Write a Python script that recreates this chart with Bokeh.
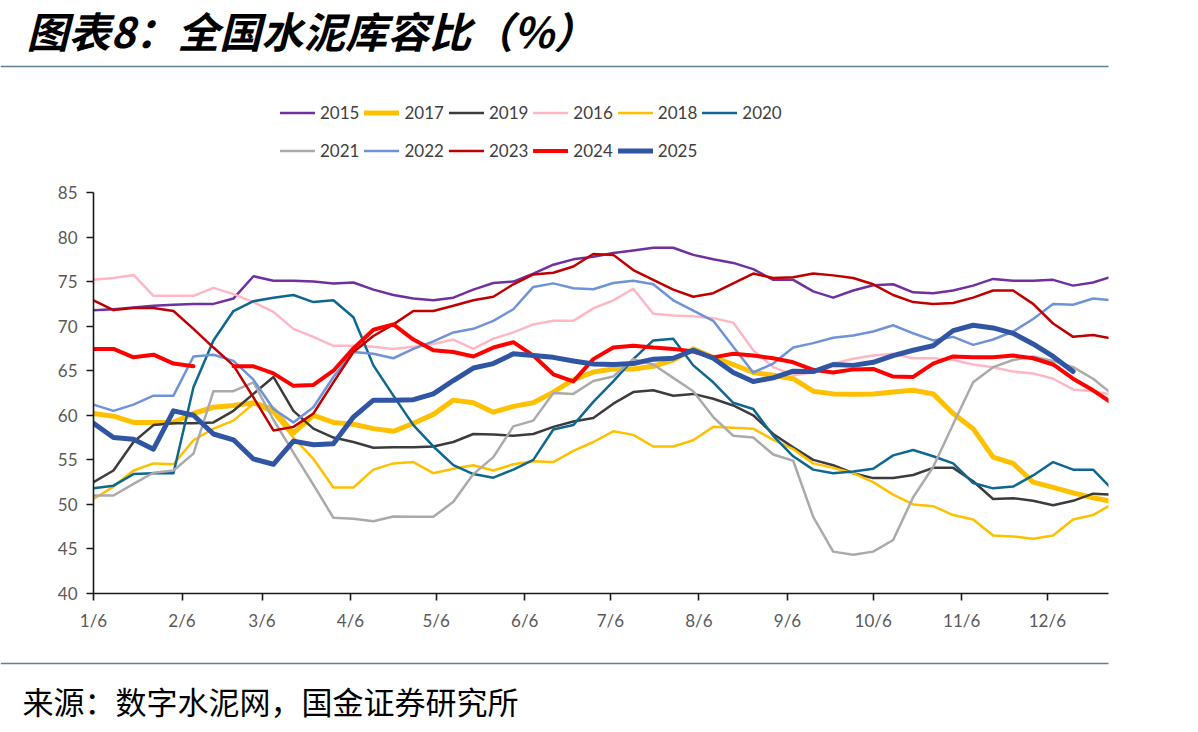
from bokeh.plotting import figure
from bokeh.layouts import column
from bokeh.models import FixedTicker, Label, Legend, LegendItem, Range1d
from bokeh.embed import file_html
from bokeh.resources import INLINE

NaN = float("nan")

# x positions: days since 1/6, weekly observations
days = [i * 7 for i in range(52)]
tick_days = [0, 31, 59, 90, 120, 151, 181, 212, 243, 273, 304, 334]
tick_labels = ["1/6", "2/6", "3/6", "4/6", "5/6", "6/6", "7/6", "8/6", "9/6", "10/6", "11/6", "12/6"]
y_ticks = [40, 45, 50, 55, 60, 65, 70, 75, 80, 85]

y2015 = [71.8, 71.9, 72.1, 72.3, 72.4, 72.5, 72.5, 73.1, 75.6, 75.1, 75.1, 75.0, 74.8,
         74.9, 74.1, 73.5, 73.1, 72.9, 73.2, 74.1, 74.85, 75.0, 75.9, 76.9, 77.5, 77.8,
         78.2, 78.5, 78.8, 78.8, 78.0, 77.5, 77.1, 76.4, 75.2, 75.2, 73.9, 73.2, 74.0,
         74.6, 74.7, 73.8, 73.7, 74.0, 74.55, 75.3, 75.1, 75.1, 75.2, 74.55, 74.9, 75.6]
y2016 = [75.2, 75.4, 75.75, 73.4, 73.4, 73.4, 74.3, 73.6, 72.7, 71.6, 69.7, 68.8, 67.8,
         67.8, 67.7, 67.45, 67.7, 68.0, 68.5, 67.45, 68.6, 69.3, 70.2, 70.6, 70.6, 72.0,
         72.9, 74.2, 71.4, 71.2, 71.1, 70.9, 70.4, 67.3, 65.4, 64.5, 64.8, 65.8, 66.35,
         66.7, 66.9, 66.4, 66.4, 66.2, 65.7, 65.4, 64.9, 64.7, 64.1, 62.9, 62.7, 62.3]
y2017 = [60.2, 59.9, 59.2, 59.2, 59.2, 60.2, 60.9, 61.1, 61.4, 60.7, 58.0, 60.0, 59.2,
         59.0, 58.5, 58.2, 59.1, 60.1, 61.7, 61.4, 60.35, 61.0, 61.4, 62.6, 64.0, 64.85,
         65.2, 65.2, 65.5, 66.2, 67.45, 66.5, 65.7, 64.8, 64.5, 64.1, 62.7, 62.4, 62.35,
         62.4, 62.6, 62.8, 62.4, 60.2, 58.5, 55.3, 54.6, 52.5, 51.9, 51.3, 50.75, 50.3]
y2018 = [50.6, 52.0, 53.8, 54.6, 54.5, 57.2, 58.5, 59.4, 61.3, 60.2, 57.5, 55.1, 51.9,
         51.9, 53.9, 54.6, 54.75, 53.5, 54.0, 54.4, 53.8, 54.5, 54.85, 54.75, 56.0, 57.0,
         58.2, 57.8, 56.5, 56.5, 57.2, 58.7, 58.6, 58.5, 57.25, 56.2, 54.6, 54.1, 53.5,
         52.5, 51.1, 50.0, 49.8, 48.8, 48.3, 46.5, 46.4, 46.15, 46.5, 48.3, 48.8, 50.1]
y2019 = [52.5, 53.8, 57.0, 58.9, 59.1, 59.1, 59.2, 60.5, 62.4, 64.3, 60.5, 58.5, 57.5,
         57.0, 56.35, 56.4, 56.4, 56.5, 57.0, 57.9, 57.85, 57.7, 57.9, 58.7, 59.3, 59.7,
         61.3, 62.6, 62.8, 62.2, 62.4, 61.85, 61.1, 60.0, 57.9, 56.4, 55.0, 54.4, 53.5,
         52.95, 52.95, 53.3, 54.1, 54.1, 52.6, 50.6, 50.7, 50.4, 49.9, 50.4, 51.2, 51.1]
y2020 = [51.8, 52.1, 53.4, 53.5, 53.5, 63.15, 68.4, 71.7, 72.8, 73.2, 73.5, 72.7, 72.9,
         71.0, 65.6, 62.2, 58.9, 56.5, 54.4, 53.4, 53.0, 53.9, 55.0, 58.4, 58.9, 61.5,
         63.8, 66.3, 68.4, 68.6, 65.6, 63.7, 61.4, 60.7, 57.7, 55.4, 53.9, 53.5, 53.7,
         54.0, 55.5, 56.1, 55.4, 54.6, 52.4, 51.8, 52.0, 53.25, 54.75, 53.9, 53.9, 51.6]
y2021 = [51.0, 51.0, 52.3, 53.55, 53.8, 55.7, 62.7, 62.7, 63.7, 59.5, 55.8, 52.2, 48.5,
         48.4, 48.1, 48.65, 48.6, 48.6, 50.3, 53.4, 55.3, 58.75, 59.4, 62.5, 62.4, 63.85,
         64.35, 66.3, 65.7, 64.2, 62.7, 59.8, 57.7, 57.5, 55.6, 54.9, 48.6, 44.7, 44.35,
         44.7, 46.0, 50.8, 54.2, 59.0, 63.7, 65.4, 66.2, 66.6, 66.1, 65.4, 64.1, 62.3]
y2022 = [61.2, 60.5, 61.2, 62.2, 62.2, 66.6, 66.8, 66.1, 64.0, 60.7, 59.2, 60.9, 64.3,
         67.1, 66.9, 66.4, 67.45, 68.3, 69.3, 69.7, 70.6, 71.9, 74.4, 74.8, 74.25, 74.15,
         74.85, 75.1, 74.7, 72.9, 71.75, 70.6, 67.7, 64.8, 65.8, 67.6, 68.1, 68.7, 68.95,
         69.4, 70.1, 69.2, 68.4, 68.8, 67.9, 68.5, 69.4, 70.8, 72.5, 72.4, 73.1, 72.9]
y2023 = [72.9, 71.8, 72.05, 72.05, 71.7, 69.7, 67.6, 65.6, 62.0, 58.3, 58.7, 60.2, 63.7,
         67.1, 68.9, 70.2, 71.7, 71.7, 72.3, 72.9, 73.3, 74.7, 75.8, 76.0, 76.7, 78.1,
         78.0, 76.3, 75.2, 74.1, 73.3, 73.7, 74.8, 75.9, 75.4, 75.5, 75.9, 75.7, 75.4,
         74.7, 73.5, 72.7, 72.5, 72.6, 73.2, 74.0, 74.0, 72.5, 70.3, 68.8, 69.0, 68.6]
y2024 = [67.45, 67.45, 66.5, 66.8, 65.8, 65.5, NaN, 65.5, 65.5, 64.7, 63.3, 63.4, 65.0,
         67.5, 69.6, 70.2, 68.5, 67.3, 67.1, 66.6, 67.6, 68.2, 66.7, 64.6, 63.8, 66.3,
         67.6, 67.8, 67.6, 67.45, 67.15, 66.5, 66.9, 66.7, 66.4, 65.95, 65.1, 64.8, 65.15,
         65.2, 64.35, 64.3, 65.8, 66.6, 66.5, 66.5, 66.7, 66.4, 65.7, 64.1, 62.8, 61.3]
y2025 = [59.1, 57.5, 57.3, 56.2, 60.5, 60.0, 57.9, 57.25, 55.1, 54.5, 57.1, 56.7, 56.8,
         59.8, 61.7, 61.7, 61.75, 62.4, 63.9, 65.3, 65.8, 66.9, 66.7, 66.5, 66.1, 65.75,
         65.7, 65.8, 66.3, 66.4, 67.3, 66.4, 64.8, 63.8, 64.2, 64.95, 64.9, 65.7, 65.6,
         65.95, 66.7, 67.3, 67.8, 69.5, 70.1, 69.8, 69.2, 68.0, 66.6, 64.9, NaN, NaN]

series = [
    ("2015", y2015, "#7030A0", 2.5),
    ("2017", y2017, "#FFC000", 5),
    ("2019", y2019, "#3C3C3C", 2.5),
    ("2016", y2016, "#FFB7C5", 2.5),
    ("2018", y2018, "#FFC000", 2.5),
    ("2020", y2020, "#0F678F", 2.5),
    ("2021", y2021, "#AAAAAA", 2.5),
    ("2022", y2022, "#6E93D6", 2.5),
    ("2023", y2023, "#C00000", 2.5),
    ("2024", y2024, "#FF0000", 4),
    ("2025", y2025, "#2F55A3", 5),
]

W = 1198
HEAD_H = 180          # canvas rows 0..180
MAIN_TOP = 12         # frame top at 192
FRAME_H = 401         # frame bottom at 593
MAIN_BOT = 58         # main canvas ends at 651
FOOT_H = 732 - HEAD_H - MAIN_TOP - FRAME_H - MAIN_BOT
FL, FR = 93, 1108
RULE_COLOR = "#5F8196"
TICK_FONT = "Lato"


def no_align(fig):
    try:
        fig.frame_align = False
    except Exception:
        pass


# ---------- header: title, rule, legend ----------
head = figure(width=W, height=HEAD_H, output_backend="svg", toolbar_location=None,
              x_range=Range1d(0, W), y_range=Range1d(HEAD_H, 0),
              x_axis_location=None, y_axis_location=None,
              min_border=0, outline_line_color=None,
              background_fill_color="white", border_fill_color="white")
no_align(head)
head.grid.visible = False
head.extra_y_ranges = {"off": Range1d(1000, 1100)}
head.add_layout(Label(x=26, y=29, text="图表8：全国水泥库容比（%）",
                      text_font="Noto Sans CJK SC", text_font_style="bold italic",
                      text_font_size="42px", text_color="#000000",
                      text_baseline="middle", text_align="left"))
head.line([0, FR], [66, 66], line_color=RULE_COLOR, line_width=1.5)

leg_items = []
for name, ys, color, lw in series:
    # same series, mapped to an off-screen range: only its legend swatch is visible
    r = head.line(days, ys, y_range_name="off", line_color=color, line_width=lw,
                  line_cap="round")
    leg_items.append(LegendItem(label=name, renderers=[r]))
legend = Legend(items=leg_items, orientation="horizontal", ncols=6,
                location=(280, HEAD_H - 96 - 71), glyph_width=35, glyph_height=33,
                label_height=33, label_width=39, label_standoff=5, spacing=5,
                padding=0, margin=0, border_line_color=None,
                background_fill_alpha=0,
                label_text_font=TICK_FONT, label_text_font_size="17px",
                label_text_color="#404040")
head.add_layout(legend, "center")

# ---------- main chart ----------
p = figure(width=W, height=MAIN_TOP + FRAME_H + MAIN_BOT, output_backend="svg",
           toolbar_location=None,
           x_range=Range1d(0, 355.4), y_range=Range1d(40, 85),
           min_border_left=FL, min_border_right=W - FR, min_border_top=MAIN_TOP,
           min_border_bottom=MAIN_BOT, background_fill_color="white",
           border_fill_color="white", outline_line_color=None)
no_align(p)
p.grid.visible = False
for ax in (p.xaxis[0], p.yaxis[0]):
    ax.axis_line_color = "#1a1a1a"
    ax.axis_line_width = 1.6
    ax.major_tick_line_color = "#1a1a1a"
    ax.major_tick_line_width = 1.6
    ax.major_tick_out = 7
    ax.major_tick_in = 0
    ax.minor_tick_line_color = None
    ax.major_label_text_font = TICK_FONT
    ax.major_label_text_font_size = "17px"
    ax.major_label_text_color = "#595959"
    ax.major_label_standoff = 9
p.yaxis.ticker = FixedTicker(ticks=y_ticks)
p.xaxis.ticker = FixedTicker(ticks=tick_days)
p.xaxis.major_label_overrides = {d: t for d, t in zip(tick_days, tick_labels)}

for name, ys, color, lw in series:
    p.line(days, ys, line_color=color, line_width=lw, line_join="round", line_cap="round")

# ---------- footer: rule and source ----------
foot = figure(width=W, height=FOOT_H, output_backend="svg", toolbar_location=None,
              x_range=Range1d(0, W), y_range=Range1d(FOOT_H, 0),
              x_axis_location=None, y_axis_location=None,
              min_border=0, outline_line_color=None,
              background_fill_color="white", border_fill_color="white")
no_align(foot)
foot.grid.visible = False
foot_top = HEAD_H + MAIN_TOP + FRAME_H + MAIN_BOT
foot.line([0, FR], [663 - foot_top, 663 - foot_top], line_color=RULE_COLOR, line_width=1.5)
foot.add_layout(Label(x=22, y=700 - foot_top, text="来源：数字水泥网，国金证券研究所",
                      text_font="Noto Sans CJK SC", text_font_size="31px",
                      text_color="#000000", text_baseline="middle", text_align="left"))

layout = column(head, p, foot, spacing=0)
open("out.html", "w").write(file_html(layout, INLINE))
